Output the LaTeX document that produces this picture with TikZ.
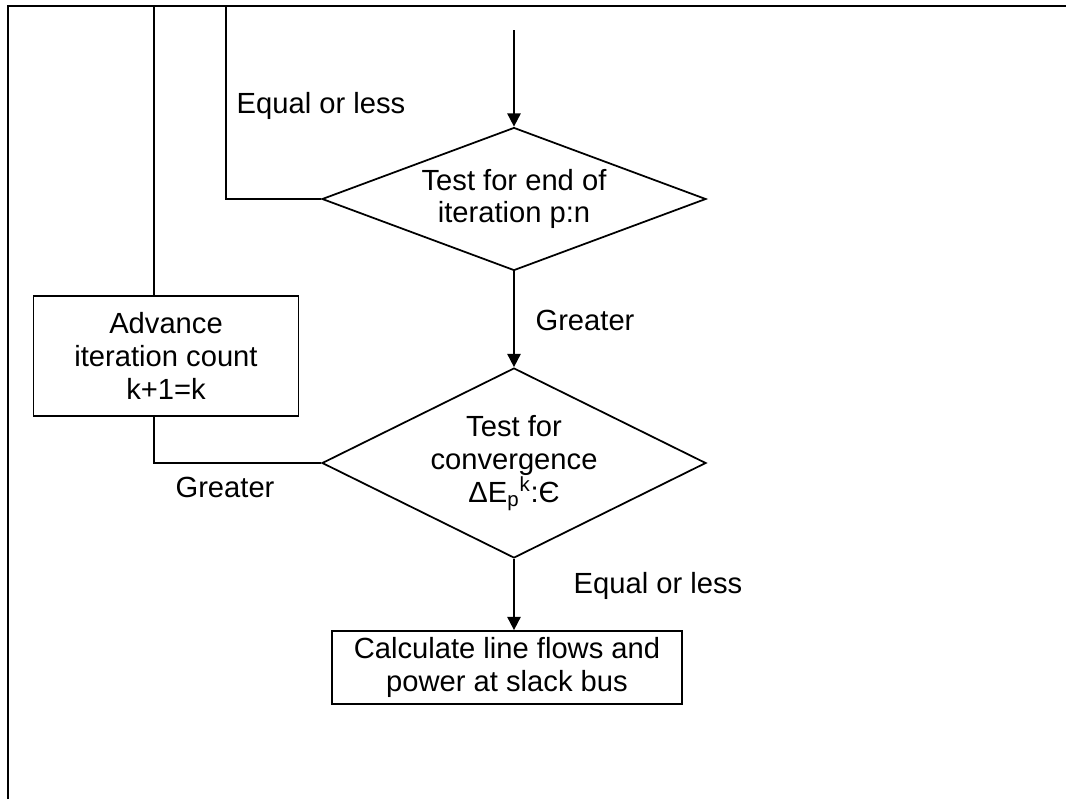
\documentclass[tikz,border=0pt]{standalone}
\usepackage{fontspec}
\setmainfont{Liberation Sans}
\usetikzlibrary{arrows.meta,shapes.geometric}

\begin{document}
\begin{tikzpicture}[x=0.02cm,y=-0.02cm,>={Triangle[length=7.5pt,width=7.5pt]},line width=1pt,
  every node/.style={font=\fontsize{16.6}{18.7}\selectfont},
  decision/.style={diamond,draw,inner sep=0pt,align=center,minimum width=7.68cm},
  procbox/.style={rectangle,draw,align=center}]
  \useasboundingbox (0,0) rectangle (1066,799);
  \draw[line width=1.2pt] (8,799) -- (8,6) -- (1066,6);
  \coordinate (loopA) at (154,6);
  \coordinate (loopB) at (226,6);
  \coordinate (entry) at (514,30);
  % decisions and boxes
  \node[decision,aspect=2.7,minimum height=2.86cm] (endit) at (514,199) {Test for end of\\iteration p:n};
  \node[decision,aspect=2.05,minimum height=3.8cm] (conv) at (514,463)
    {Test for\\convergence\\ΔE\textsubscript{p}\textsuperscript{k}:Є};
  \node[procbox,minimum width=5.3cm,minimum height=2.4cm] (adv) at (166,356)
    {Advance\\iteration count\\k+1=k};
  \node[procbox,minimum width=7cm,minimum height=1.46cm] (calc) at (507,667.5)
    {Calculate line flows and\\power at slack bus};
  % connectors
  \draw[->] (entry) -- (endit.north);
  \draw[->] (endit.south) -- (conv.north);
  \draw[->] (conv.south) -- (conv.south |- calc.north);
  \draw (endit.west) -| (loopB);
  \draw (loopA) -- (loopA |- adv.north);
  \draw (adv.south -| loopA) |- (conv.west);
  % labels
  \node (eq1) at (321,106) {Equal or less};
  \node (gr1) at (585,320) {Greater};
  \node (gr2) at (225,487) {Greater};
  \node (eq2) at (658,586) {Equal or less};
\end{tikzpicture}
\end{document}
